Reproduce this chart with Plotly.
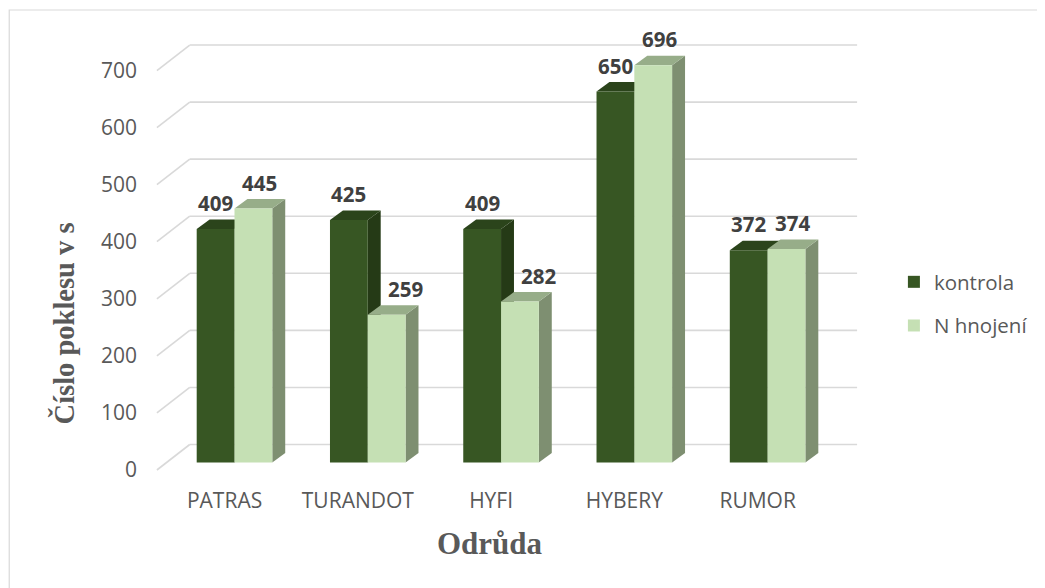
import plotly.graph_objects as go

# ---------------- data ----------------
categories = ["PATRAS", "TURANDOT", "HYFI", "HYBERY", "RUMOR"]
kontrola = [409, 425, 409, 650, 372]
n_hnojeni = [445, 259, 282, 696, 374]
series_names = ["kontrola", "N hnojení"]
y_tick_values = [0, 100, 200, 300, 400, 500, 600, 700]
x_title = "Odrůda"
y_title = "Číslo poklesu v s"

# ---------------- geometry / style (screen pixels) ----------------
OFF = 8                                  # default page body margin
W, H = 1045 - OFF, 588 - OFF             # figure size
L, R, T, B = 142, 880, 20, 480          # plot area in screen pixels
CAT0_PX, CAT_STEP = 235, 134            # pixel of first category centre, spacing
ZERO_PX, PXY = 462.5, 0.5707            # pixel of value 0 (bar plane), px per unit
BAR_W_PX = 38
DEPTH_DX, DEPTH_DY = 13, 9.5            # bar depth (3D faces)
FRONT_DX, FRONT_DY = -10, 7.5           # label plane offset vs bar plane
BACK_DX, BACK_DY = 23, -18              # back wall offset vs bar plane
GRID_START_PX, GRID_END_PX = 157, 861

FRONT_COLORS = ["#375623", "#C5E0B4"]
TOP_COLORS = ["#2B441B", "#97AD89"]
SIDE_COLORS = ["#253A16", "#7E8F71"]
GRID_COLOR = "#D9D9D9"
TEXT_COLOR = "#595959"
LABEL_COLOR = "#404040"


def xu(px):
    return (px - CAT0_PX) / CAT_STEP


def dxu(dpx):
    return dpx / CAT_STEP


def dvu(dpy_up):
    return dpy_up / PXY


def paper_x(px):
    return (px - L) / (R - L)


def paper_y(py):
    return (B - py) / (B - T)


idx = list(range(len(categories)))
bw = BAR_W_PX / CAT_STEP
values = [kontrola, n_hnojeni]

fig = go.Figure()
for j, (name, vals) in enumerate(zip(series_names, values)):
    fig.add_trace(go.Bar(
        x=idx, y=vals, name=name,
        marker=dict(color=FRONT_COLORS[j], line=dict(width=0)),
        legendgroup=name,
        hoverinfo="skip",
    ))

shapes = []
# back-wall gridlines with left-wall slants
for v in y_tick_values:
    vb = v + dvu(-BACK_DY)
    vf = v + dvu(-FRONT_DY)
    xs_front = xu(GRID_START_PX)
    xs_back = xu(GRID_START_PX + (BACK_DX - FRONT_DX))
    shapes.append(dict(type="line", xref="x", yref="y", layer="below",
                       x0=xs_front, y0=vf, x1=xs_back, y1=vb,
                       line=dict(color=GRID_COLOR, width=1.6)))
    shapes.append(dict(type="line", xref="x", yref="y", layer="below",
                       x0=xs_back, y0=vb, x1=xu(GRID_END_PX), y1=vb,
                       line=dict(color=GRID_COLOR, width=1.6)))

# 3D top and side faces
ddx, ddv = dxu(DEPTH_DX), dvu(DEPTH_DY)
for j, vals in enumerate(values):
    for i, v in zip(idx, vals):
        x0 = i - bw + j * bw
        x1 = x0 + bw
        top = (f"M {x0},{v} L {x1},{v} L {x1 + ddx},{v + ddv} "
               f"L {x0 + ddx},{v + ddv} Z")
        side = (f"M {x1},0 L {x1},{v} L {x1 + ddx},{v + ddv} "
                f"L {x1 + ddx},{ddv} Z")
        shapes.append(dict(type="path", path=side, xref="x", yref="y",
                           layer="below", fillcolor=SIDE_COLORS[j],
                           line=dict(width=0)))
        shapes.append(dict(type="path", path=top, xref="x", yref="y",
                           layer="below", fillcolor=TOP_COLORS[j],
                           line=dict(width=0)))

# chart border (top and left edges visible)
shapes.append(dict(type="rect", xref="paper", yref="paper",
                   x0=paper_x(8.5), y0=paper_y(10), x1=paper_x(1100), y1=paper_y(620),
                   line=dict(color=GRID_COLOR, width=1.2), fillcolor="rgba(0,0,0,0)"))

annotations = []
for j, vals in enumerate(values):
    other = values[1 - j]
    for i, v in zip(idx, vals):
        xc = i - bw / 2 + j * bw
        if j == 0:
            xs = 0
        else:
            xs = 6 if v >= other[i] else 19
        annotations.append(dict(
            x=xc, y=v, xref="x", yref="y", text=str(v), showarrow=False,
            xshift=xs, yshift=26, yanchor="middle",
            font=dict(family="Open Sans", size=20.5, color=LABEL_COLOR, weight="bold"),
        ))

annotations.append(dict(
    x=paper_x(492), y=paper_y(543), xref="paper", yref="paper", text=f"<b>{x_title}</b>",
    showarrow=False, xanchor="center", yanchor="middle",
    font=dict(family="Liberation Serif", size=31, color=TEXT_COLOR)))
annotations.append(dict(
    x=paper_x(64), y=paper_y(323), xref="paper", yref="paper", text=f"<b>{y_title}</b>",
    showarrow=False, xanchor="center", yanchor="middle", textangle=-90,
    font=dict(family="Liberation Serif", size=28.5, color=TEXT_COLOR)))

fig.update_layout(
    width=W, height=H,
    margin=dict(l=L - OFF, r=W - (R - OFF), t=T - OFF, b=H - (B - OFF)),
    paper_bgcolor="white", plot_bgcolor="white",
    barmode="group", bargap=1 - 2 * bw, bargroupgap=0,
    shapes=shapes, annotations=annotations,
    font=dict(family="Open Sans", size=20, color=TEXT_COLOR),
    legend=dict(x=paper_x(898), y=paper_y(262), xanchor="left", yanchor="top",
                traceorder="grouped", tracegroupgap=14,
                font=dict(family="Open Sans", size=20.5, color=TEXT_COLOR),
                bgcolor="rgba(0,0,0,0)"),
    xaxis=dict(range=[xu(L), xu(R)], tickvals=[i + dxu(FRONT_DX) for i in idx],
               ticktext=categories, showgrid=False, zeroline=False, showline=False,
               ticks="", ticklabelstandoff=6,
               tickfont=dict(family="Open Sans", size=21, color=TEXT_COLOR)),
    yaxis=dict(range=[dvu(ZERO_PX - B), dvu(ZERO_PX - T)],
               tickvals=[v + dvu(-FRONT_DY) for v in y_tick_values],
               ticktext=[str(v) for v in y_tick_values],
               showgrid=False, zeroline=False, showline=False, ticks="",
               ticklabelstandoff=4,
               tickfont=dict(family="Open Sans", size=21, color=TEXT_COLOR)),
    showlegend=True,
)

fig.write_html("out.html")
